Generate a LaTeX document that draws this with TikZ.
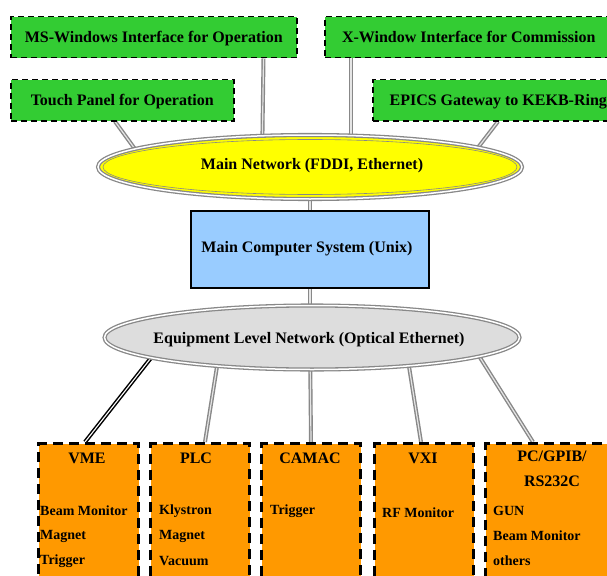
\documentclass[tikz,border=0pt]{standalone}
\usepackage{fontspec}
\setmainfont{Liberation Serif}
\usetikzlibrary{shapes.geometric,backgrounds}
\definecolor{boxgreen}{HTML}{33CC33}
\definecolor{boxorange}{HTML}{FF9900}
\definecolor{boxblue}{HTML}{99CCFF}
\definecolor{netyellow}{HTML}{FFFF00}
\definecolor{netgray}{HTML}{DDDDDD}
\definecolor{linkgray}{HTML}{888888}
\begin{document}
\begin{tikzpicture}[x=1pt,y=-1pt,
  every node/.style={font=\fontsize{16}{19}\selectfont\bfseries, inner sep=0pt},
  topbox/.style={draw=black, fill=boxgreen, line width=1.5pt, dash pattern=on 6pt off 4pt, anchor=north west, minimum height=41pt, text depth=0pt},
  devbox/.style={draw=black, fill=boxorange, line width=3pt, dash pattern=on 10pt off 6pt, anchor=north west, minimum height=160pt},
  net/.style={ellipse, draw=linkgray, double=white, double distance=1.5pt, line width=1.3pt},
  innerring/.style={ellipse, draw=linkgray, line width=0.6pt},
  link/.style={draw=linkgray, double=white!80!gray, double distance=1.2pt, line width=1.4pt},
  blacklink/.style={draw=black, double=white, double distance=1.1pt, line width=1.5pt},
  item/.style={font=\fontsize{14}{16}\selectfont\bfseries, anchor=west},
  devtitle/.style={font=\fontsize{16}{19}\selectfont\bfseries}]
\useasboundingbox (0,0) rectangle (607,575);

% top boxes
\node[topbox, minimum width=286pt] (ms) at (10,16) {MS-Windows Interface for Operation};
\node[topbox, minimum width=288pt] (xw) at (324,16) {X-Window Interface for Commission};
\node[topbox, minimum width=223pt] (touch) at (10,79) {Touch Panel for Operation};
\node[topbox, minimum width=251pt] (epics) at (372,79) {EPICS Gateway to KEKB-Ring};

% networks and computer
\node[net, fill=netyellow, minimum width=424pt, minimum height=64pt] (mainnet) at (310,167) {};
\node[innerring, minimum width=414pt, minimum height=55pt] (mainring) at (310,167) {};
\node (mainnetl) at (312,165.5) {Main Network (FDDI, Ethernet)};
\node[draw=black, fill=boxblue, line width=1.2pt, minimum width=238pt, minimum height=77pt] (comp) at (310,249.5) {};
\node (compl) at (307,248.5) {Main Computer System (Unix)};
\node[net, fill=netgray, minimum width=415pt, minimum height=64pt] (equip) at (312,337.5) {};
\node (equipl) at (309,339.5) {Equipment Level Network (Optical Ethernet)};

% device boxes
\node[devbox, minimum width=100pt] (vme) at (37,442) {};
\node[devbox, minimum width=99pt] (plc) at (149,442) {};
\node[devbox, minimum width=99pt] (camac) at (260,442) {};
\node[devbox, minimum width=99pt] (vxi) at (373,442) {};
\node[devbox, minimum width=130pt] (pc) at (484,442) {};

% device texts
\node[devtitle] (vmet) at (87,458) {VME};
\node[item] (vme1) at (40,511) {Beam Monitor};
\node[item] (vme2) at (40,536) {Magnet};
\node[item] (vme3) at (40,561) {Trigger};

\node[devtitle] (plct) at (196,458) {PLC};
\node[item] (plc1) at (159,511) {Klystron};
\node[item] (plc2) at (159,536) {Magnet};
\node[item] (plc3) at (159,561) {Vacuum};

\node[devtitle] (camact) at (310,458) {CAMAC};
\node[item] (camac1) at (270,511) {Trigger};

\node[devtitle] (vxit) at (423,458) {VXI};
\node[item] (vxi1) at (382,513) {RF Monitor};

\node[devtitle] (pct) at (552,456) {PC/GPIB/};
\node[devtitle] (pct2) at (552,481) {RS232C};
\node[item] (pc1) at (493,511) {GUN};
\node[item] (pc2) at (493,536) {Beam Monitor};
\node[item] (pc3) at (493,561) {others};

% connectors
\begin{pgfonlayer}{background}
\draw[link] ([xshift=-34pt]ms.south east) -- ([xshift=-48pt]mainnet.center);
\draw[link] ([xshift=27pt]xw.south west) -- ([xshift=41pt]mainnet.center);
\draw[link] ([xshift=105pt]touch.south west) -- ([xshift=-162pt]mainnet.center);
\draw[link] ([xshift=126pt]epics.south west) -- ([xshift=153pt]mainnet.center);
\draw[link] (mainnet.center) -- (comp.center);
\draw[link] (comp.center) -- ([xshift=-2pt]equip.center);
\draw[blacklink] ([xshift=-145pt]equip.center) -- ([xshift=48pt]vme.north west);
\draw[link] ([xshift=-90.4pt]equip.center) -- ([xshift=56pt]plc.north west);
\draw[link] ([xshift=-2pt]equip.center) -- (camac.north);
\draw[link] ([xshift=92.4pt]equip.center) -- ([xshift=48pt]vxi.north west);
\draw[link] ([xshift=155.4pt]equip.center) -- ([xshift=49pt]pc.north west);
\end{pgfonlayer}
\end{tikzpicture}
\end{document}
